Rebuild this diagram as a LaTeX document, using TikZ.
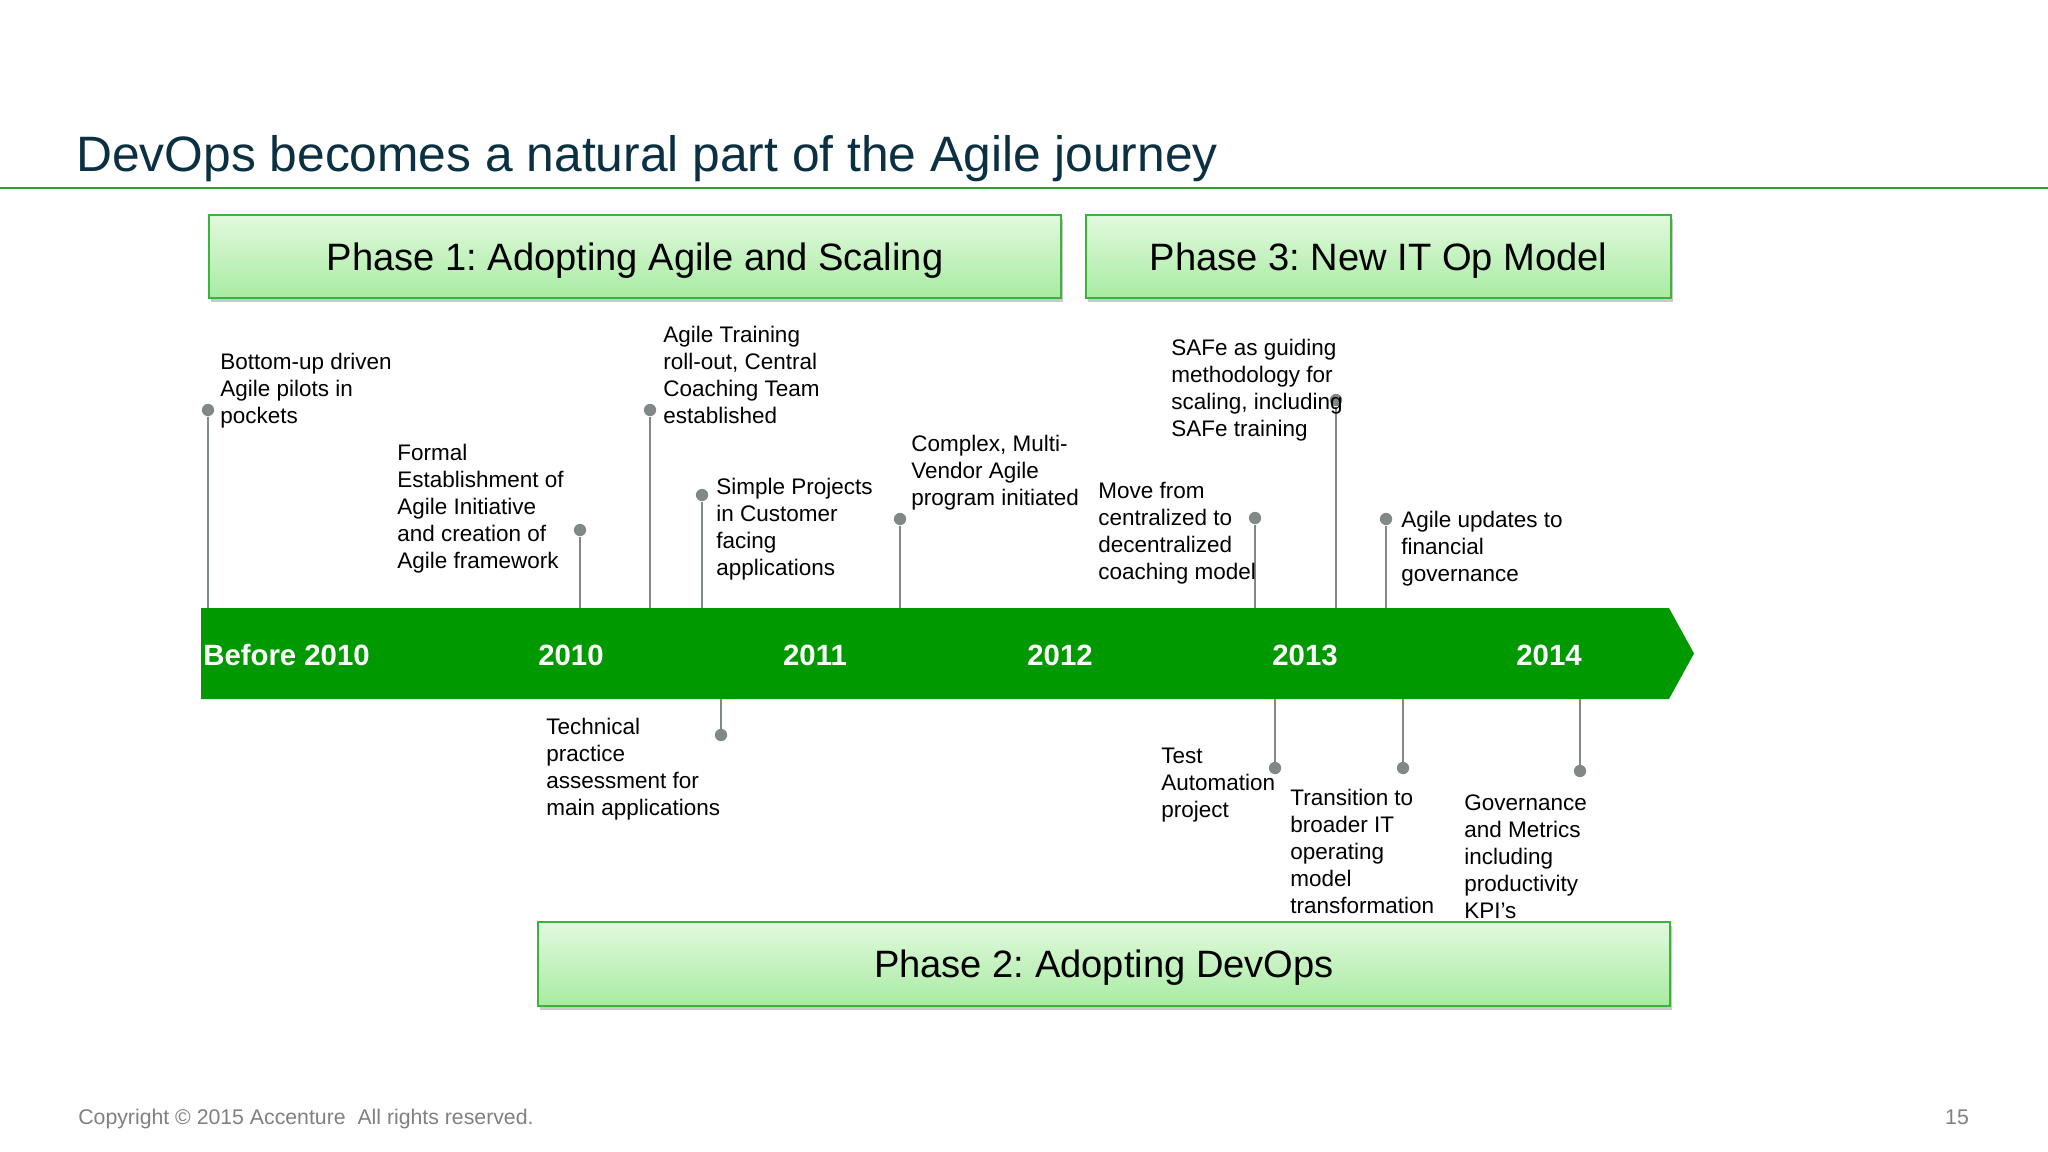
\documentclass[tikz,border=0pt]{standalone}
\usepackage{fontspec}
\setmainfont{Liberation Sans}
\usetikzlibrary{shadows}
\frenchspacing

\definecolor{titleblue}{RGB}{10,48,66}
\definecolor{bargreen}{RGB}{0,154,0}
\definecolor{rulegreen}{RGB}{46,160,46}
\definecolor{boxedge}{RGB}{60,180,60}
\definecolor{boxtop}{RGB}{226,249,222}
\definecolor{boxbot}{RGB}{168,235,162}
\definecolor{stemgray}{RGB}{128,136,136}
\definecolor{footgray}{RGB}{128,128,128}

\begin{document}
\begin{tikzpicture}[x=0.02cm, y=-0.02cm,
  phase/.style={draw=boxedge, line width=1.2pt, top color=boxtop, bottom color=boxbot,
    drop shadow={shadow xshift=1pt, shadow yshift=-2.5pt, opacity=0.35, fill=black!60},
    text depth=0pt, font=\fontsize{21.7}{25}\selectfont},
  event/.style={anchor=base west, align=left, inner sep=0pt, font=\fontsize{12.8}{15.3}\selectfont},
  year/.style={anchor=base, inner sep=0pt, text=white, font=\fontsize{16.7}{20}\selectfont\bfseries},
  stem/.style={stemgray, line width=1.1pt},
  dot/.style={circle, fill=stemgray, inner sep=0pt, minimum size=7pt}]
  \useasboundingbox[fill=white] (0,0) rectangle (2048,1152);

  % title
  \node[anchor=base west, inner sep=0pt, text=titleblue, font=\fontsize{28.3}{33}\selectfont] (title) at (76,172) {DevOps becomes a natural part of the Agile journey};
  \draw[rulegreen, line width=1.1pt] (0,188) -- (2048,188);

  % phases
  \node[phase, minimum width=17.04cm, minimum height=1.66cm] (p1) at (635,256.5) {Phase 1: Adopting Agile and Scaling};
  \node[phase, minimum width=11.7cm, minimum height=1.66cm] (p3) at (1378.5,256.5) {Phase 3: New IT Op Model};
  \node[phase, minimum width=22.64cm, minimum height=1.68cm] (p2) at (1104,964) {Phase 2: Adopting DevOps};

  % timeline
  \fill[bargreen] (201,608) -- (1669,608) -- (1694,653.5) -- (1669,699) -- (201,699) -- cycle;
  \coordinate (bartop) at (0,608);
  \coordinate (barbot) at (0,699);

  \node[year, anchor=base west] (y0) at (203,665) {Before 2010};
  \node[year] (y1) at (571,665) {2010};
  \node[year] (y2) at (815,665) {2011};
  \node[year] (y3) at (1060,665) {2012};
  \node[year] (y4) at (1305,665) {2013};
  \node[year] (y5) at (1549,665) {2014};

  % events above (anchored at the baseline of the last line)
  \node[dot] (d1) at (208,410) {};
  \node[dot] (d2) at (580,530) {};
  \node[dot] (d3) at (650,410) {};
  \node[dot] (d4) at (702,495) {};
  \node[dot] (d5) at (900,519) {};
  \node[dot] (d6) at (1255,518) {};
  \node[dot] (d7) at (1336,400) {};
  \node[dot] (d8) at (1386,519) {};
  \draw[stem] (d1) -- (d1 |- bartop);
  \draw[stem] (d2) -- (d2 |- bartop);
  \draw[stem] (d3) -- (d3 |- bartop);
  \draw[stem] (d4) -- (d4 |- bartop);
  \draw[stem] (d5) -- (d5 |- bartop);
  \draw[stem] (d6) -- (d6 |- bartop);
  \draw[stem] (d7) -- (d7 |- bartop);
  \draw[stem] (d8) -- (d8 |- bartop);

  \node[event] (t1) at (220,423) {Bottom-up driven\\Agile pilots in\\pockets};
  \node[event] (t2) at (397,568) {Formal\\Establishment of\\Agile Initiative\\and creation of\\Agile framework};
  \node[event] (t3) at (663,423) {Agile Training\\roll-out, Central\\Coaching Team\\established};
  \node[event] (t4) at (716,575) {Simple Projects\\in Customer\\facing\\applications};
  \node[event] (t5) at (911,505) {Complex, Multi-\\Vendor Agile\\program initiated};
  \node[event] (t6) at (1098,579) {Move from\\centralized to\\decentralized\\coaching model};
  \node[event] (t7) at (1171,436) {SAFe as guiding\\methodology for\\scaling, including\\SAFe training};
  \node[event] (t8) at (1401,581) {Agile updates to\\financial\\governance};

  % events below
  \node[dot] (d9) at (721,735) {};
  \node[dot] (d10) at (1275,768) {};
  \node[dot] (d11) at (1403,768) {};
  \node[dot] (d12) at (1580,771) {};
  \draw[stem] (d9) -- (d9 |- barbot);
  \draw[stem] (d10) -- (d10 |- barbot);
  \draw[stem] (d11) -- (d11 |- barbot);
  \draw[stem] (d12) -- (d12 |- barbot);

  \node[event] (t9) at (546,815) {Technical\\practice\\assessment for\\main applications};
  \node[event] (t10) at (1161,817) {Test\\Automation\\project};
  \node[event] (t11) at (1290,913) {Transition to\\broader IT\\operating\\model\\transformation};
  \node[event] (t12) at (1464,918) {Governance\\and Metrics\\including\\productivity\\KPI’s};

  % footer
  \node[anchor=base west, inner sep=0pt, text=footgray, font=\fontsize{12.1}{14}\selectfont] (copy) at (78,1124) {Copyright © 2015 Accenture\ \ All rights reserved.};
  \node[anchor=base, inner sep=0pt, text=footgray, font=\fontsize{12.1}{14}\selectfont] (page) at (1957,1124) {15};
\end{tikzpicture}
\end{document}
